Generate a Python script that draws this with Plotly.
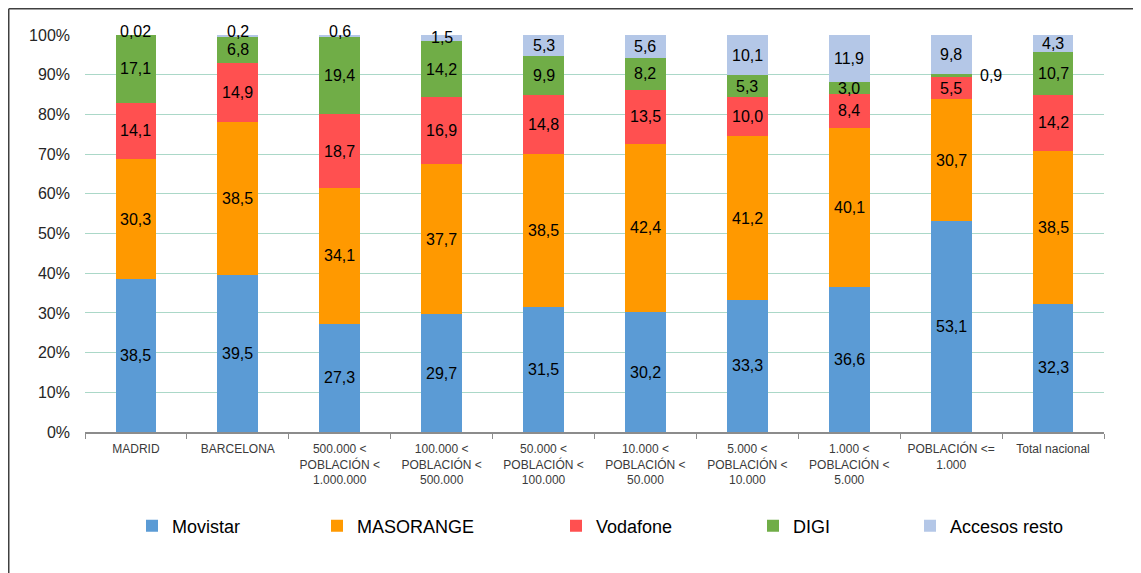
import plotly.graph_objects as go

# categorías (eje X) y series en %
categorias = [
    "MADRID",
    "BARCELONA",
    "500.000 <\nPOBLACIÓN <\n1.000.000",
    "100.000 <\nPOBLACIÓN <\n500.000",
    "50.000 <\nPOBLACIÓN <\n100.000",
    "10.000 <\nPOBLACIÓN <\n50.000",
    "5.000 <\nPOBLACIÓN <\n10.000",
    "1.000 <\nPOBLACIÓN <\n5.000",
    "POBLACIÓN <=\n1.000",
    "Total nacional",
]

movistar = [38.5, 39.5, 27.3, 29.7, 31.5, 30.2, 33.3, 36.6, 53.1, 32.3]
masorange = [30.3, 38.5, 34.1, 37.7, 38.5, 42.4, 41.2, 40.1, 30.7, 38.5]
vodafone = [14.1, 14.9, 18.7, 16.9, 14.8, 13.5, 10.0, 8.4, 5.5, 14.2]
digi = [17.1, 6.8, 19.4, 14.2, 9.9, 8.2, 5.3, 3.0, 0.9, 10.7]
resto = [0.02, 0.2, 0.6, 1.5, 5.3, 5.6, 10.1, 11.9, 9.8, 4.3]

series = [
    ("Movistar", movistar, "#5B9BD5"),
    ("MASORANGE", masorange, "#FF9900"),
    ("Vodafone", vodafone, "#FF5050"),
    ("DIGI", digi, "#70AD47"),
    ("Accesos resto", resto, "#B4C7E7"),
]

# texto de los ticks: escapar "<" y saltos de línea
etiquetas = [c.replace("<", "&lt;").replace("\n", "<br>") for c in categorias]

# geometría del área de trazado (px dentro de la figura)
W, H = 1141, 573
L, T, R, B = 77, 27, 45, 149
PW, PH = W - L - R, H - T - B


def px_x(p):
    return (p - L) / PW


def px_y(p):
    return (H - B - p) / PH


# posición de cada leyenda (px desde la izquierda de la figura)
pos_leyenda = [124, 309, 548, 745, 902]

fig = go.Figure()
base = [0.0] * len(categorias)
anotaciones = []

for i, (nombre, valores, color) in enumerate(series):
    leg = "legend" if i == 0 else f"legend{i + 1}"
    fig.add_trace(go.Bar(
        name=nombre,
        x=etiquetas,
        y=valores,
        marker_color=color,
        marker_line_width=0,
        legend=leg,
        hovertemplate="%{y}<extra>" + nombre + "</extra>",
    ))
    ultima = i == len(series) - 1
    # etiquetas de datos centradas en cada tramo
    for j, v in enumerate(valores):
        dec = 2 if round(v, 1) != v else 1
        texto = f"{v:.{dec}f}".replace(".", ",")
        pequeno = v < 1
        anotaciones.append(dict(
            x=etiquetas[j],
            y=min(base[j] + v / 2, 100),
            text=texto,
            showarrow=False,
            xshift=40 if (pequeno and not ultima) else 0,
            yshift=4 if (pequeno and ultima) else 0,
            font=dict(size=16, color="#000000"),
        ))
        base[j] += v

fig.update_layout(
    barmode="stack",
    bargap=0.6,
    width=W,
    height=H,
    margin=dict(l=L, r=R, t=T, b=B, autoexpand=False),
    paper_bgcolor="white",
    plot_bgcolor="white",
    font=dict(family="Liberation Sans, Arial, sans-serif", color="#262626"),
    annotations=anotaciones,
    showlegend=True,
)

for i in range(len(series)):
    key = "legend" if i == 0 else f"legend{i + 1}"
    fig.update_layout({key: dict(
        orientation="h",
        x=px_x(pos_leyenda[i]),
        xanchor="left",
        y=px_y(518),
        yanchor="middle",
        font=dict(size=18, color="#000000"),
        itemwidth=30,
        bgcolor="rgba(0,0,0,0)",
    )})

fig.update_xaxes(
    showline=True,
    linecolor="#8C8C8C",
    linewidth=1.5,
    ticks="outside",
    tickson="boundaries",
    ticklen=5,
    tickcolor="#8C8C8C",
    tickfont=dict(size=12, color="#3A3A3A"),
    ticklabelstandoff=5,
    showgrid=False,
)

fig.update_yaxes(
    range=[0, 100],
    tick0=0,
    dtick=10,
    ticksuffix="%",
    tickfont=dict(size=16, color="#262626"),
    ticklabelstandoff=14,
    showgrid=True,
    gridcolor="#ABD8C8",
    gridwidth=1,
    zeroline=False,
    showline=False,
)

# marco del gráfico (izquierda y arriba)
fig.add_shape(type="line", xref="paper", yref="paper",
              x0=px_x(0.75), x1=px_x(W),
              y0=px_y(0.75), y1=px_y(0.75),
              line=dict(color="#404040", width=1.5))
fig.add_shape(type="line", xref="paper", yref="paper",
              x0=px_x(0.75), x1=px_x(0.75),
              y0=px_y(0.75), y1=px_y(H),
              line=dict(color="#404040", width=1.5))

fig.write_html("out.html")
